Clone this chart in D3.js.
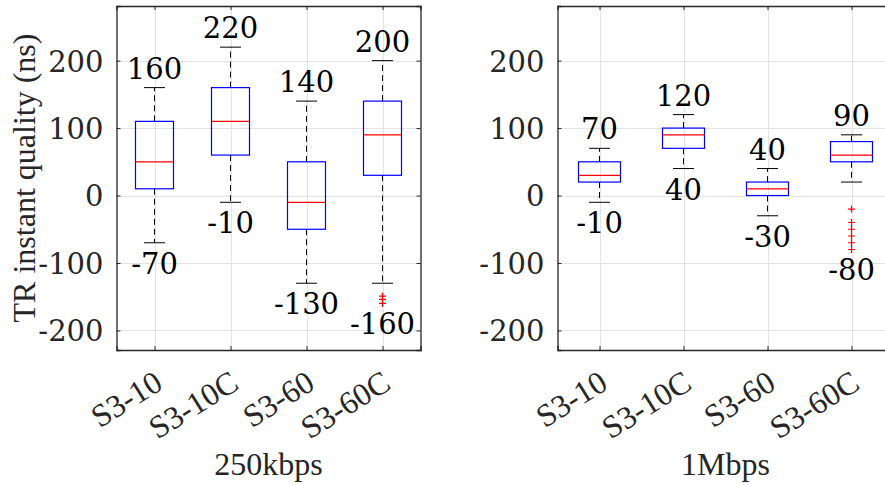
<!DOCTYPE html>
<html>
<head>
<meta charset="utf-8">
<script src="https://cdn.jsdelivr.net/npm/d3@7"></script>
<style>
body { margin: 0; background: #fff; }
svg { display: block; }
text { font-family: "Liberation Serif", "Times New Roman", serif; }
text.num { font-family: "DejaVu Serif", serif; }
</style>
</head>
<body>
<div id="vis"></div>
<script>
var w = 885;
var h = 485;

// data
var categories = ["S3-10", "S3-10C", "S3-60", "S3-60C"];
var yTicks = [-200, -100, 0, 100, 200];

var kbpsLow = [-70, -10, -130, -130];
var kbpsQ1 = [10, 60, -50, 30];
var kbpsMedian = [50, 110, -10, 90];
var kbpsQ3 = [110, 160, 50, 140];
var kbpsHigh = [160, 220, 140, 200];
var kbpsOutliers = [[], [], [], [-149, -154, -160]];

var mbpsLow = [-10, 40, -30, 20];
var mbpsQ1 = [20, 70, 0, 50];
var mbpsMedian = [30, 90, 10, 60];
var mbpsQ3 = [50, 100, 20, 80];
var mbpsHigh = [70, 120, 40, 90];
var mbpsOutliers = [[], [], [], [-20, -40, -50, -60, -70, -80]];

var svg = d3.select("#vis")
    .append("svg")
    .attr("width", w)
    .attr("height", h);

var top_ = 6, bottom = 350;
var y = d3.scaleLinear().domain([-229, 281]).range([bottom, top_]);
var numSize = "29px";

function panel(x0, x1, title, low, q1, med, q3, high, outl) {
	var x = d3.scalePoint().domain(categories).range([x0, x1]).padding(0.5);
	var step = x.step();
	var g = svg.append("g");

	//grid
	g.selectAll(".gy").data(yTicks).enter().append("line")
		.attr("x1", x0).attr("x2", x1)
		.attr("y1", function(d) { return Math.round(y(d)) + 0.5; })
		.attr("y2", function(d) { return Math.round(y(d)) + 0.5; })
		.attr("stroke", "#e3e3e3").attr("stroke-width", 1);
	g.selectAll(".gx").data(categories).enter().append("line")
		.attr("x1", function(d) { return Math.round(x(d)) + 0.5; })
		.attr("x2", function(d) { return Math.round(x(d)) + 0.5; })
		.attr("y1", top_).attr("y2", bottom)
		.attr("stroke", "#e3e3e3").attr("stroke-width", 1);

	//axes
	var axL = d3.axisLeft(y).tickValues(yTicks).tickSize(-4).tickPadding(13).tickFormat(function(d) { return String(d); });
	var gl = g.append("g").attr("transform", "translate(" + x0 + ",0)").call(axL);
	var axR = d3.axisRight(y).tickValues(yTicks).tickSize(-4).tickFormat("");
	var gr = g.append("g").attr("transform", "translate(" + x1 + ",0)").call(axR);
	var axB = d3.axisBottom(x).tickSize(-4).tickFormat("");
	var gb = g.append("g").attr("transform", "translate(0," + bottom + ")").call(axB);
	var axT = d3.axisTop(x).tickSize(-4).tickFormat("");
	var gt = g.append("g").attr("transform", "translate(0," + top_ + ")").call(axT);
	[gl, gr, gb, gt].forEach(function(a) {
		a.select(".domain").attr("stroke", "#262626").attr("stroke-width", 1.3);
		a.selectAll(".tick line").attr("stroke", "#262626");
	});
	gl.selectAll(".tick text")
		.attr("class", "num")
		.attr("fill", "#262626")
		.style("font-size", numSize)
		.attr("dy", "0.36em");

	//x tick labels
	g.selectAll(".xl").data(categories).enter().append("text")
		.text(function(d) { return d; })
		.attr("text-anchor", "end")
		.attr("transform", function(d) { return "translate(" + (x(d) + 10) + "," + (bottom + 38) + ") rotate(-32)"; })
		.attr("fill", "#262626")
		.style("font-size", "32px");

	//title
	g.append("text")
		.text(title)
		.attr("x", (x0 + x1) / 2)
		.attr("y", 475)
		.attr("text-anchor", "middle")
		.attr("fill", "#262626")
		.style("font-size", "32px");

	var bw = step * 0.5;
	var cw = 21;
	categories.forEach(function(c, i) {
		var cx = x(c);
		//whiskers
		g.append("line").attr("x1", cx).attr("x2", cx).attr("y1", y(q3[i])).attr("y2", y(high[i]))
			.attr("stroke", "#000").attr("stroke-dasharray", "6,4");
		g.append("line").attr("x1", cx).attr("x2", cx).attr("y1", y(q1[i])).attr("y2", y(low[i]))
			.attr("stroke", "#000").attr("stroke-dasharray", "6,4");
		g.append("line").attr("x1", cx - cw / 2).attr("x2", cx + cw / 2).attr("y1", y(high[i])).attr("y2", y(high[i]))
			.attr("stroke", "#000");
		g.append("line").attr("x1", cx - cw / 2).attr("x2", cx + cw / 2).attr("y1", y(low[i])).attr("y2", y(low[i]))
			.attr("stroke", "#000");
		//box
		g.append("rect")
			.attr("x", cx - bw / 2).attr("width", bw)
			.attr("y", y(q3[i])).attr("height", y(q1[i]) - y(q3[i]))
			.attr("fill", "none").attr("stroke", "#0000ff").attr("stroke-width", 1.2);
		g.append("line").attr("x1", cx - bw / 2).attr("x2", cx + bw / 2).attr("y1", y(med[i])).attr("y2", y(med[i]))
			.attr("stroke", "#ff0000").attr("stroke-width", 1.2);
		//outliers
		g.selectAll(".o" + i).data(outl[i]).enter().append("path")
			.attr("d", function(d) { var py = y(d); return "M" + (cx - 3.5) + "," + py + "H" + (cx + 3.5) + "M" + cx + "," + (py - 3.5) + "V" + (py + 3.5); })
			.attr("stroke", "#ff0000").attr("stroke-width", 1.2);
		//labels max / min
		var mn = d3.min([low[i]].concat(outl[i]));
		g.append("text").text(String(high[i]))
			.attr("class", "num")
			.attr("x", cx).attr("y", y(high[i]) - 9)
			.attr("text-anchor", "middle").attr("fill", "#000")
			.style("font-size", numSize);
		g.append("text").text(String(mn))
			.attr("class", "num")
			.attr("x", cx).attr("y", y(mn) + 31)
			.attr("text-anchor", "middle").attr("fill", "#000")
			.style("font-size", numSize);
	});
}

panel(116.5, 420.5, "250kbps", kbpsLow, kbpsQ1, kbpsMedian, kbpsQ3, kbpsHigh, kbpsOutliers);
panel(557.5, 893.5, "1Mbps", mbpsLow, mbpsQ1, mbpsMedian, mbpsQ3, mbpsHigh, mbpsOutliers);

//y label
svg.append("text")
	.text("TR instant quality (ns)")
	.attr("transform", "translate(35," + ((top_ + bottom) / 2) + ") rotate(-90)")
	.attr("text-anchor", "middle")
	.attr("fill", "#262626")
	.style("font-size", "32px");
</script>
</body>
</html>
